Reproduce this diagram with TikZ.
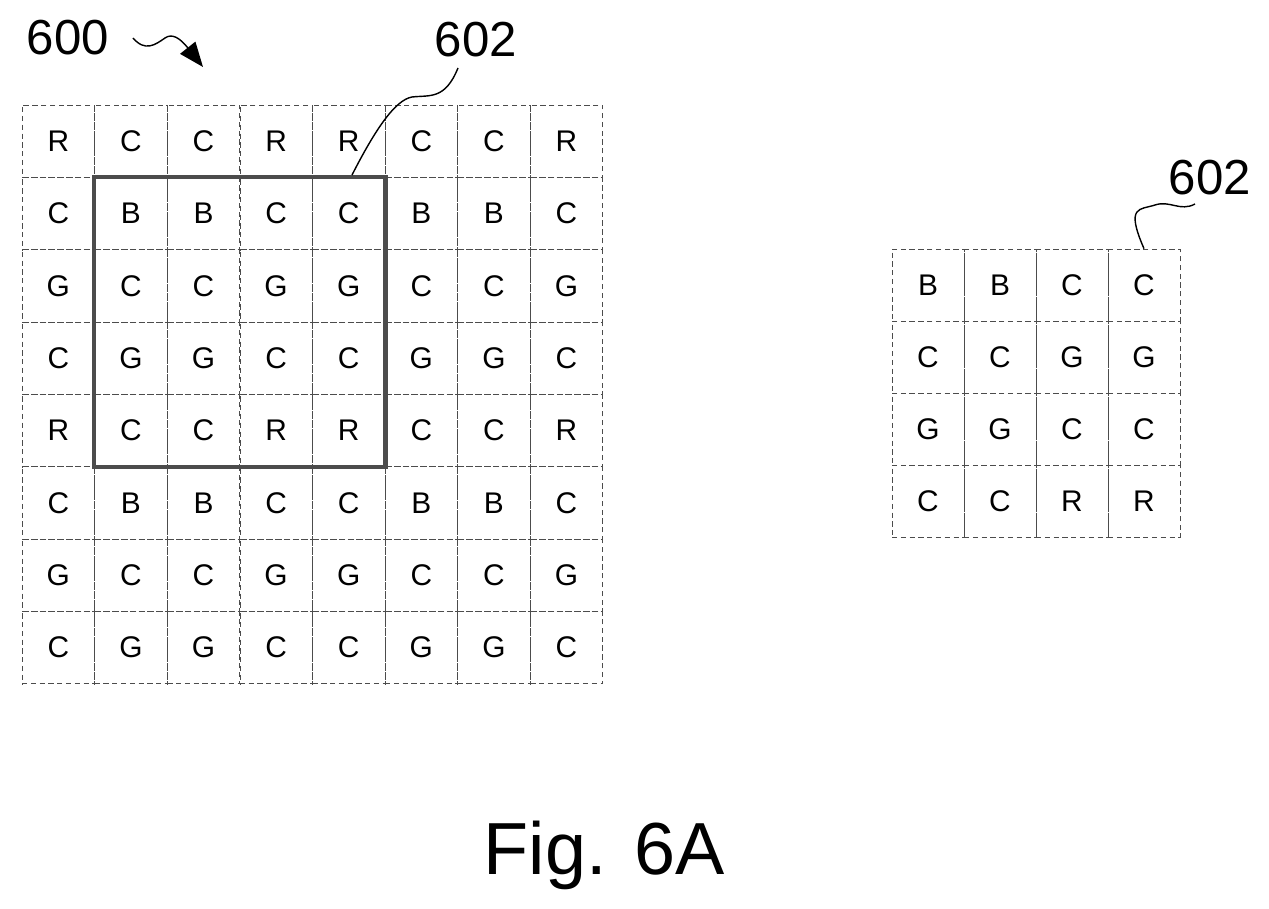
\documentclass[tikz,border=0pt]{standalone}
\usepackage{fontspec}
\setmainfont{Liberation Sans}
\usetikzlibrary{arrows.meta}
\begin{document}
\begin{tikzpicture}[x=0.02cm,y=-0.02cm,
cell/.style={draw=black!70,densely dashed,thin,minimum size=72.5*0.02cm,inner sep=0pt,font=\fontsize{17}{17}\selectfont},
label/.style={font=\fontsize{28}{28}\selectfont,inner sep=0pt}]
\useasboundingbox (0,0) rectangle (1269,909);

% large array
\foreach \row [count=\r from 0] in {{R,C,C,R,R,C,C,R},{C,B,B,C,C,B,B,C},{G,C,C,G,G,C,C,G},{C,G,G,C,C,G,G,C},{R,C,C,R,R,C,C,R},{C,B,B,C,C,B,B,C},{G,C,C,G,G,C,C,G},{C,G,G,C,C,G,G,C}}
  \foreach \l [count=\c from 0] in \row
    \node[cell] (big-\r-\c) at (58.3+72.6*\c,141.3+72.3*\r) {\l};

% small array
\foreach \row [count=\r from 0] in {{B,B,C,C},{C,C,G,G},{G,G,C,C},{C,C,R,R}}
  \foreach \l [count=\c from 0] in \row
    \node[cell,minimum size=72*0.02cm] (small-\r-\c) at (928+72*\c,285+72*\r) {\l};

% window
\draw[line width=2.5pt,black!70] (big-1-1.north west) rectangle (big-4-4.south east);

% labels
\node[label] (l600) at (68,38) {600};
\node[label] (l602a) at (476,40) {602};
\node[label] (l602b) at (1210,178) {602};
\node[font=\fontsize{42}{42}\selectfont,inner sep=0pt] (fig) at (604,855) {Fig. 6A};

\draw[thick,-{Triangle[length=14pt,width=11pt]}] (133,38) .. controls (145,52) and (155,45) .. (165,38) .. controls (172,33) and (180,38) .. (203,67);
\draw[thick] (458,68) .. controls (445,100) and (430,95) .. (412,97) .. controls (395,100) and (375,130) .. (352,175);
\draw[thick] (1195,204) .. controls (1180,212) and (1170,200) .. (1155,205) .. controls (1140,210) and (1125,205) .. (small-0-3.north);
\end{tikzpicture}
\end{document}
